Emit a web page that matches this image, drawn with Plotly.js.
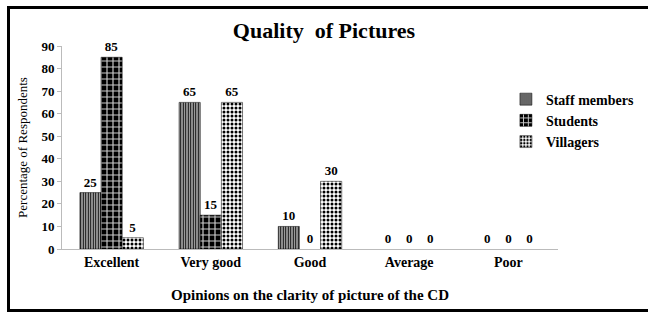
<!DOCTYPE html>
<html><head><meta charset="utf-8">
<script src="https://cdn.plot.ly/plotly-3.0.1.min.js"></script>
<style>
body{margin:0;padding:0;background:#fff;}
#frame{position:absolute;left:7px;top:6px;width:660px;height:306px;border:3px solid #000;box-sizing:border-box;}
#chart{position:absolute;left:0;top:0;width:648px;height:318px;}
</style></head>
<body>
<div id="frame"></div>
<div id="chart"></div>
<script>
const categories = ["Excellent","Very good","Good","Average","Poor"];
const staff = [25,65,10,0,0];
const students = [85,15,0,0,0];
const villagers = [5,65,30,0,0];
const yTicks = [0,10,20,30,40,50,60,70,80,90];

const serif = "Liberation Serif, Times New Roman, serif";
function mk(name, vals, pattern){
  return {type:'bar', name:name, x:categories, y:vals,
    text:vals.map(String), textposition:'outside', cliponaxis:false,
    textfont:{family:serif,size:13,color:'#000',weight:'bold'},
    marker:{color:'#fff', line:{color:'#000',width:vals.map(v=>v>0?0.5:0)}, pattern:pattern}};
}
const data = [
  mk('Staff members', staff, {shape:'|', fgcolor:'#000', bgcolor:'#fff', size:2.5, solidity:0.6}),
  mk('Students', students, {shape:'+', fgcolor:'#ccc', bgcolor:'#000', size:6, solidity:0.35}),
  mk('Villagers', villagers, {shape:'.', fgcolor:'#000', bgcolor:'#fff', size:4, solidity:0.45})
];
const layout = {
  width:648, height:318,
  margin:{l:62, r:90, t:46, b:69, autoexpand:false},
  paper_bgcolor:'rgba(0,0,0,0)', plot_bgcolor:'rgba(0,0,0,0)',
  barmode:'group', bargap:0.36, bargroupgap:0,
  title:{text:'<b>Quality  of Pictures</b>', font:{family:serif,size:22,color:'#000'}, x:0.5, xref:'container', y:0.905, yref:'container', yanchor:'middle'},
  xaxis:{showline:true, linecolor:'#bbb', linewidth:1, ticks:'', showgrid:false,
    tickfont:{family:serif,size:14,color:'#000',weight:'bold'},
    title:{text:'<b>Opinions on the clarity of picture of the CD</b>', font:{family:serif,size:15,color:'#000'}, standoff:20}},
  yaxis:{range:[0,90], tickvals:yTicks, showline:true, linecolor:'#bbb', linewidth:1,
    ticks:'outside', ticklen:4, tickcolor:'#bbb', showgrid:false, zeroline:false,
    tickfont:{family:serif,size:13,color:'#000',weight:'bold'},
    title:{text:'Percentage of Respondents', font:{family:serif,size:13,color:'#000'}, standoff:10}},
  showlegend:true,
  legend:{x:0.895, y:0.815, xanchor:'left', yanchor:'top', font:{family:serif,size:14,color:'#000',weight:'bold'},
    itemwidth:30, tracegroupgap:0, bgcolor:'rgba(0,0,0,0)'}
};
Plotly.newPlot('chart', data, layout, {displayModeBar:false, staticPlot:true});
</script>
</body></html>
